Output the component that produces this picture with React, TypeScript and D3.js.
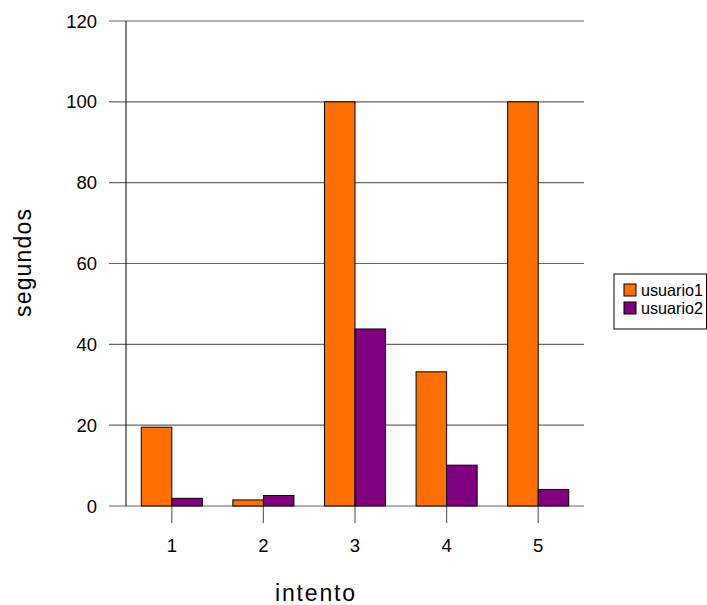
import React from "react";
import * as d3 from "d3";

// Attempt numbers (x categories)
const intentos = ["1", "2", "3", "4", "5"];
// Seconds per attempt for each user
const usuario1 = [19.5, 1.5, 100, 33.2, 100];
const usuario2 = [1.9, 2.6, 43.8, 10.1, 4.1];
const seriesNames = ["usuario1", "usuario2"];
const seriesColors = ["#FF7000", "#800080"];
const yTicks = [0, 20, 40, 60, 80, 100, 120];

const W = 707;
const H = 605;
const plot = { left: 126, right: 584, top: 21, bottom: 506 };
const font = "'Liberation Sans', Arial, sans-serif";

export default function App() {
  const x = d3
    .scaleBand<string>()
    .domain(intentos)
    .range([plot.left, plot.right])
    .paddingInner(0)
    .paddingOuter(0);
  const groupPad = x.bandwidth() / 6;
  const xs = d3
    .scaleBand<string>()
    .domain(seriesNames)
    .range([groupPad, x.bandwidth() - groupPad]);
  const y = d3.scaleLinear().domain([0, 120]).range([plot.bottom, plot.top]);
  const data = [usuario1, usuario2];

  return (
    <svg
      width={W}
      height={H}
      style={{ position: "absolute", left: 0, top: 0, background: "#fff" }}
      fontFamily={font}
    >
      {/* horizontal gridlines with left tick extensions */}
      {yTicks.map((t) => (
        <g key={t}>
          <line
            x1={109}
            x2={plot.right}
            y1={y(t)}
            y2={y(t)}
            stroke="#666"
            strokeWidth={1.2}
          />
          <text
            x={97}
            y={y(t)}
            dy="0.36em"
            textAnchor="end"
            fontSize={18.5}
            fill="#000"
          >
            {t}
          </text>
        </g>
      ))}

      {/* category tick marks and labels */}
      {intentos.map((c) => {
        const cx = (x(c) as number) + x.bandwidth() / 2;
        return (
          <g key={c}>
            <line
              x1={cx}
              x2={cx}
              y1={plot.bottom}
              y2={plot.bottom + 17}
              stroke="#666"
              strokeWidth={1.2}
            />
            <text x={cx} y={552} textAnchor="middle" fontSize={18.5} fill="#000">
              {c}
            </text>
          </g>
        );
      })}

      {/* bars */}
      {data.map((vals, si) =>
        vals.map((v, i) => {
          const bx = (x(intentos[i]) as number) + (xs(seriesNames[si]) as number);
          return (
            <rect
              key={`${si}-${i}`}
              x={bx}
              y={y(v)}
              width={xs.bandwidth()}
              height={y(0) - y(v)}
              fill={seriesColors[si]}
              stroke="#000"
              strokeWidth={1}
            />
          );
        })
      )}

      {/* y axis */}
      <line
        x1={plot.left}
        x2={plot.left}
        y1={plot.top}
        y2={plot.bottom}
        stroke="#000"
        strokeWidth={1}
      />

      {/* axis titles */}
      <text
        x={315}
        y={601}
        textAnchor="middle"
        fontSize={23}
        textLength={80}
        lengthAdjust="spacing"
        fill="#000"
      >
        intento
      </text>
      <text
        transform={`translate(31,263) rotate(-90)`}
        textAnchor="middle"
        fontSize={23}
        textLength={108}
        lengthAdjust="spacing"
        fill="#000"
      >
        segundos
      </text>

      {/* legend */}
      <rect
        x={614}
        y={274}
        width={92.5}
        height={55}
        fill="#fff"
        stroke="#000"
        strokeWidth={1}
      />
      {seriesNames.map((n, i) => (
        <g key={n} transform={`translate(624, ${284 + i * 18})`}>
          <rect
            x={0}
            y={0}
            width={12}
            height={12}
            fill={seriesColors[i]}
            stroke="#000"
            strokeWidth={1}
          />
          <text
            x={17}
            y={11.5}
            fontSize={16.5}
            textLength={62}
            lengthAdjust="spacingAndGlyphs"
            fill="#000"
          >
            {n}
          </text>
        </g>
      ))}
    </svg>
  );
}
